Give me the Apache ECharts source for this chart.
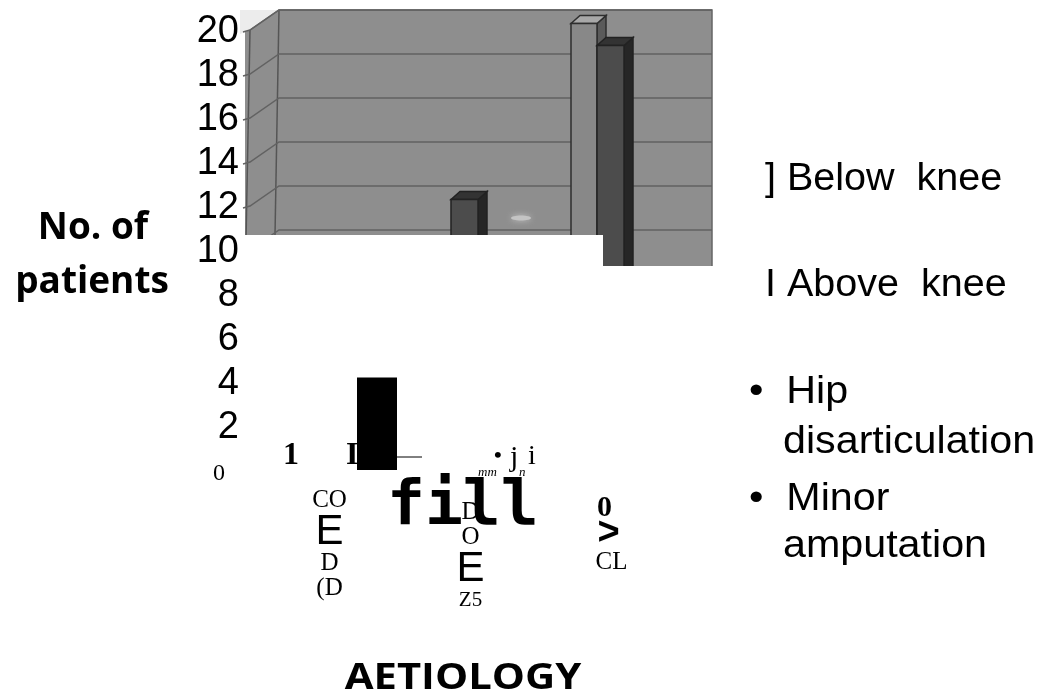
<!DOCTYPE html>
<html><head><meta charset="utf-8">
<style>html,body{margin:0;padding:0;background:#fff}#c{width:1041px;height:696px}</style>
<script src="https://cdn.jsdelivr.net/npm/echarts@6/dist/echarts.min.js"></script>
</head><body><div id="c"></div>
<script>
const categories = ['A', 'B', 'C'];
const categoryLabels = ['CO\nE\nD\n(D', 'D\nO\nE\nZ5', '0\n>\nCL'];
const yTicks = [0, 2, 4, 6, 8, 10, 12, 14, 16, 18, 20];
const belowKnee = [null, null, 20];
const aboveKnee = [null, 12, 19];
const hipDisarticulation = [null, null, null];
const minorAmputation = [4.2, null, null];
const legendLines = ['] Below  knee', 'I Above  knee', '\u2022  Hip', 'disarticulation', '\u2022  Minor', 'amputation'];

const SANS = '"Liberation Sans", Arial, sans-serif';
const SERIF = '"Liberation Serif", serif';
const HEAD = '"Open Sans", sans-serif';
const GREY = '#8e8e8e', LINE = '#626262';

function bar3d(left, width, front, top, side, edge) {
  return function (params, api) {
    const v = api.value(1);
    if (v == null || isNaN(v)) return null;
    const p = api.coord([api.value(0), v]);
    const b = api.coord([api.value(0), 0]);
    const x = p[0] + left, y = p[1] - 6.5, dx = 9, dy = 8;
    const st = { stroke: edge, lineWidth: 1.5 };
    return { type: 'group', children: [
      { type: 'polygon', shape: { points: [[x + width, y], [x + width + dx, y - dy], [x + width + dx, b[1]], [x + width, b[1]]] }, style: { fill: side, ...st } },
      { type: 'polygon', shape: { points: [[x, y], [x + dx, y - dy], [x + width + dx, y - dy], [x + width, y]] }, style: { fill: top, ...st } },
      { type: 'rect', shape: { x: x, y: y, width: width, height: b[1] - y }, style: { fill: front, ...st } }
    ] };
  };
}
function flatBar(left, width) {
  return function (params, api) {
    const v = api.value(1);
    if (v == null || isNaN(v)) return null;
    const p = api.coord([api.value(0), v]);
    const b = api.coord([api.value(0), 0]);
    return { type: 'rect', shape: { x: p[0] + left, y: p[1], width: width, height: b[1] - p[1] }, style: { fill: '#000' } };
  };
}
function wallLine(params, api) {
  const p = api.coord([0, api.value(1)]);
  const x0 = params.coordSys.x + 4, y0 = p[1];
  return { type: 'polyline', shape: { points: [[x0 - 7, y0 + 2], [x0, y0], [x0 + 29, y0 - 20], [712, y0 - 20]] }, style: { fill: 'none', stroke: LINE, lineWidth: 1.5 } };
}
const pairs = a => a.map((v, i) => [i, v]);

function catFormatter(value) {
  const idx = categories.indexOf(value);
  const lines = categoryLabels[idx].split('\n');
  const rows = lines.map(s => {
    let k = 's';
    if (s === 'E') k = 'e';
    if (s === '>') k = 'v';
    if (s === '0') k = 'b';
    if (s === 'Z5') k = 'z';
    return '{' + k + '|' + s + '}';
  });
  if (idx === 1) rows.unshift('{g1| }');
  if (idx === 2) rows.unshift('{g2| }');
  return rows.join('\n');
}

function txt(text, x, y, font, extra, sx) {
  return { type: 'text', z: 6, x: x, y: y, scaleX: sx || 1, style: Object.assign({ text: text, font: font, fill: '#000', verticalAlign: 'middle' }, extra || {}) };
}
const LEG = '38px ' + SANS, LSX = 1.085;

const option = {
  animation: false,
  backgroundColor: '#fff',
  grid: [
    { left: 246, width: 438, top: 30, height: 440, show: false },
    { left: 259, width: 423, top: 30, height: 440, show: false }
  ],
  xAxis: [
    { type: 'category', gridIndex: 0, data: categories, axisLine: { show: false }, axisTick: { show: false }, axisLabel: { show: false } },
    { type: 'category', gridIndex: 1, data: categories, z: 7, axisLine: { show: false }, axisTick: { show: false },
      axisLabel: { interval: 0, margin: 18, formatter: catFormatter, align: 'center', verticalAlign: 'top',
        rich: {
          s: { fontFamily: SERIF, fontSize: 25, lineHeight: 25, align: 'center', color: '#000' },
          z: { fontFamily: SERIF, fontSize: 21, lineHeight: 25, align: 'center', color: '#000' },
          g1: { fontSize: 6, lineHeight: 12 },
          g2: { fontSize: 6, lineHeight: 10 },
          b: { fontFamily: SERIF, fontSize: 30, fontWeight: 'bold', lineHeight: 20, align: 'center', color: '#000', padding: [0, 14, 0, 0] },
          e: { fontFamily: SANS, fontSize: 42, lineHeight: 38, align: 'center', color: '#000' },
          v: { fontFamily: SANS, fontSize: 38, fontWeight: 'bold', lineHeight: 32, align: 'center', color: '#000', padding: [0, 6, 0, 0] }
        } } }
  ],
  yAxis: [
    { type: 'value', gridIndex: 0, min: 0, max: 20, interval: 2, z: 7, splitLine: { show: false }, axisLine: { show: false }, axisTick: { show: false },
      axisLabel: { margin: 7, fontFamily: SANS, fontSize: 38, color: '#000', align: 'right', padding: [4, 0, 0, 0],
        formatter: v => v === 0 ? '{z|0}' : String(v),
        rich: { z: { fontFamily: SERIF, fontSize: 24, color: '#000', padding: [4, 14, 0, 0] } } } },
    { type: 'value', gridIndex: 1, min: 0, max: 20, show: false }
  ],
  series: [
    { type: 'custom', name: 'wall', z: 1, xAxisIndex: 0, yAxisIndex: 0, clip: false, silent: true, renderItem: wallLine, data: yTicks.map(t => [0, t]) },
    { type: 'custom', name: 'Below knee', z: 2, xAxisIndex: 0, yAxisIndex: 0, clip: false, renderItem: bar3d(-40, 26, '#888888', '#a8a8a8', '#5a5a5a', '#2e2e2e'), data: pairs(belowKnee) },
    { type: 'custom', name: 'Above knee', z: 2, xAxisIndex: 0, yAxisIndex: 0, clip: false, renderItem: bar3d(-14, 27, '#4c4c4c', '#333', '#262626', '#222'), data: pairs(aboveKnee) },
    { type: 'custom', name: 'Hip disarticulation', z: 2, xAxisIndex: 0, yAxisIndex: 0, clip: false, renderItem: bar3d(12, 26, '#ccc', '#ddd', '#aaa', '#222'), data: pairs(hipDisarticulation) },
    { type: 'custom', name: 'Minor amputation', z: 5, xAxisIndex: 0, yAxisIndex: 0, clip: false, renderItem: flatBar(38, 40), data: pairs(minorAmputation) },
    { type: 'custom', name: 'blank', xAxisIndex: 1, yAxisIndex: 1, renderItem: () => null, data: [] }
  ],
  graphic: { elements: [
    { type: 'rect', z: 0, shape: { x: 245, y: 10, width: 467, height: 256 }, style: { fill: GREY } },
    { type: 'polygon', z: 0, shape: { points: [[240, 10], [279, 10], [250, 30], [240, 34]] }, style: { fill: '#ececec' } },
    { type: 'polyline', z: 0, shape: { points: [[250, 30], [279, 10], [712, 10], [712, 266]] }, style: { fill: 'none', stroke: '#666', lineWidth: 1.5 } },
    { type: 'polyline', z: 0, shape: { points: [[250, 30], [246, 240]] }, style: { fill: 'none', stroke: '#555', lineWidth: 1.5 } },
    { type: 'polyline', z: 0, shape: { points: [[279, 10], [275, 235]] }, style: { fill: 'none', stroke: '#555', lineWidth: 1.5 } },
    { type: 'ellipse', z: 0, shape: { cx: 521, cy: 218, rx: 10, ry: 2.5 }, style: { fill: '#c4c4c4', shadowBlur: 6, shadowColor: '#c4c4c4' } },
    { type: 'polygon', z: 3, shape: { points: [[240, 235], [603, 235], [603, 266], [713, 266], [713, 490], [240, 490]] }, style: { fill: '#fff' } },

    txt('No. of', 93, 228, 'bold 37px ' + HEAD, { align: 'center' }),
    txt('patients', 92, 282, 'bold 37px ' + HEAD, { align: 'center' }),
    txt(legendLines[0], 765, 180, LEG, null, 1.04),
    txt(legendLines[1], 765, 286, LEG, null, 1.04),
    txt(legendLines[2], 749, 393, LEG, null, LSX),
    txt(legendLines[3], 783, 443, LEG, null, LSX),
    txt(legendLines[4], 749, 500, LEG, null, LSX),
    txt(legendLines[5], 783, 547, LEG, null, LSX),

    txt('1', 283, 456, 'bold 32px ' + SERIF),
    txt('I', 346, 456, 'bold 32px ' + SERIF),
    { type: 'line', z: 6, shape: { x1: 397, y1: 457, x2: 422, y2: 457 }, style: { stroke: '#000', lineWidth: 1 } },
    txt('\u2022', 494, 456, 'bold 22px ' + SERIF),
    txt('j', 510, 458, '30px ' + SERIF),
    txt('i', 528, 457, '28px ' + SERIF),
    txt('mm', 478, 473, 'italic 13px ' + SERIF),
    txt('n', 519, 473, 'italic 13px ' + SERIF),
    txt('fill', 387, 508, 'bold 63px "DejaVu Sans Mono"'),
    txt('AETIOLOGY', 463, 679, 'bold 36px ' + HEAD, { align: 'center' }, 1.16)
  ] }
};
echarts.init(document.getElementById('c'), null, { renderer: 'canvas' }).setOption(option);
</script></body></html>
